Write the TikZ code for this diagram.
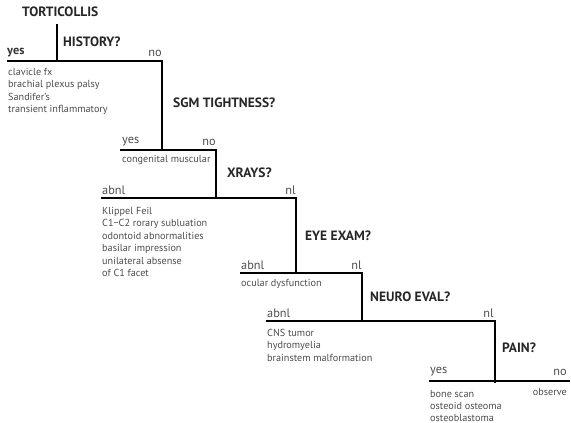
\documentclass[tikz,border=0pt]{standalone}
\usepackage{fontspec}
\setmainfont{PT Sans}
\usetikzlibrary{positioning}

\begin{document}
\begin{tikzpicture}[x=1pt,y=-1pt,
    question/.style={font=\bfseries\fontsize{13.5}{15}\selectfont,text=black!85,inner sep=0,anchor=west},
    answer/.style={font=\fontsize{12.3}{14}\selectfont,text=black!70,inner sep=0},
    result/.style={font=\fontsize{10.2}{12.4}\selectfont,text=black!70,inner sep=0,align=left,anchor=north west},
    bar/.style={line width=1.8pt}
    ]
    \useasboundingbox (0,0) rectangle (571,423);

    % the question
    \node[question] (title) at (22,12) {TORTICOLLIS};
    \coordinate (t0) at (57,24);

    % history
    \node[question] (q1) at (63,42) {HISTORY?};
    \coordinate (b1l) at (7,61);
    \coordinate (b1m) at (57,61);
    \coordinate (b1r) at (162,61);
    \node[answer,anchor=west,font=\bfseries\fontsize{12.3}{14}\selectfont,text=black!80] (yes1) at (7,53) {yes};
    \node[answer,anchor=east] (no1) at (162,53) {no};
    \node[result] (res1) at (8,68) {clavicle fx\\brachial plexus palsy\\Sandifer's\\transient inflammatory};

    % sgm tightness
    \node[question] (q2) at (173,103) {SGM TIGHTNESS?};
    \coordinate (b2l) at (120,150);
    \coordinate (b2m) at (162,150);
    \coordinate (b2r) at (216,150);
    \node[answer,anchor=west] (yes2) at (122,142) {yes};
    \node[answer,anchor=east] (no2) at (216,142) {no};
    \node[result] (res2) at (122,155) {congenital muscular};

    % xrays
    \node[question] (q3) at (227,173) {XRAYS?};
    \coordinate (b3l) at (101,198);
    \coordinate (b3m) at (216,198);
    \coordinate (b3r) at (296,198);
    \node[answer,anchor=west] (abnl3) at (102,190) {abnl};
    \node[answer,anchor=east] (nl3) at (296,190) {nl};
    \node[result] (res3) at (102,207) {Klippel Feil\\C1\textminus C2 rorary subluation\\odontoid abnormalities\\basilar impression\\unilateral absense\\of C1 facet};

    % eye exam
    \node[question] (q4) at (305,236) {EYE EXAM?};
    \coordinate (b4l) at (240,273);
    \coordinate (b4m) at (296,273);
    \coordinate (b4r) at (362,273);
    \node[answer,anchor=west] (abnl4) at (241,265) {abnl};
    \node[answer,anchor=east] (nl4) at (362,265) {nl};
    \node[result] (res4) at (241,279) {ocular dysfunction};

    % neuro eval
    \node[question] (q5) at (370,297) {NEURO EVAL?};
    \coordinate (b5l) at (266,321);
    \coordinate (b5m) at (362,321);
    \coordinate (b5r) at (495,321);
    \node[answer,anchor=west] (abnl5) at (267,313) {abnl};
    \node[answer,anchor=east] (nl5) at (494,313) {nl};
    \node[result] (res5) at (267,329) {CNS tumor\\hydromyelia\\brainstem malformation};

    % pain
    \node[question] (q6) at (502,348) {PAIN?};
    \coordinate (b6l) at (429,381);
    \coordinate (b6m) at (495,383);
    \coordinate (b6r) at (570,381);
    \node[answer,anchor=west] (yes6) at (430,372) {yes};
    \node[answer,anchor=east] (no6) at (567,372) {no};
    \node[result,font=\fontsize{10.2}{12.1}\selectfont] (res6) at (430,390) {bone scan\\osteoid osteoma\\osteoblastoma};
    \node[result,anchor=north east] (obs6) at (567,388) {observe};

    % the branches
    \draw[bar] (t0) -- (b1m);
    \draw[bar] (b1l) -- (b1r) -- (b2m);
    \draw[bar] (b2l) -- (b2r) -- (b3m);
    \draw[bar] (b3l) -- (b3r) -- (b4m);
    \draw[bar] (b4l) -- (b4r) -- (b5m);
    \draw[bar] (b5l) -- (b5r) -- (b6m);
    \draw[bar] (b6l) -- (b6r);

\end{tikzpicture}
\end{document}
